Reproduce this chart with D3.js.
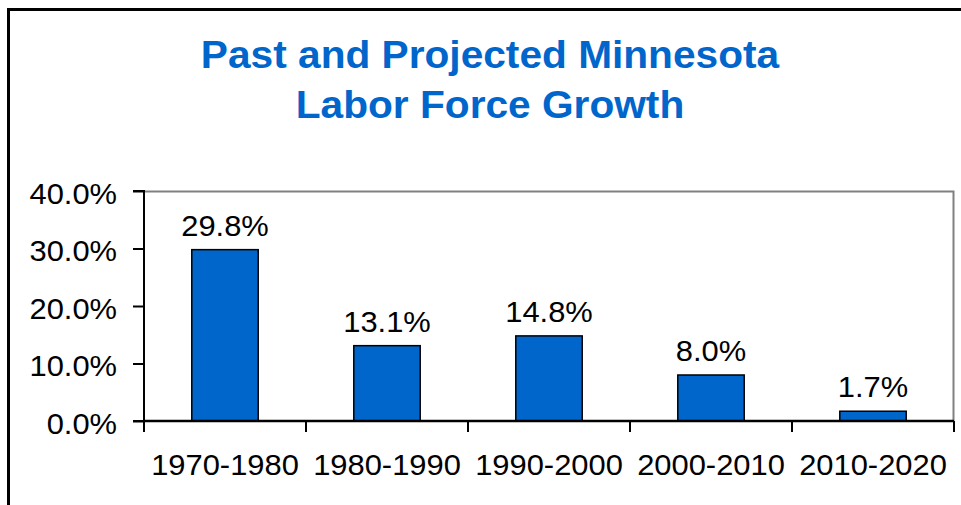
<!DOCTYPE html>
<html>
<head>
    <meta charset="utf-8">
    <title>Past and Projected Minnesota Labor Force Growth</title>
    <script src="https://d3js.org/d3.v7.min.js"></script>
    <style>
        body {
            margin: 0;
            background-color: white;
        }
        text {
            font-family: Arial, "Liberation Sans", sans-serif;
        }
    </style>
</head>
<body>
    <div id="chart"></div>
    <script>

        // data
        var periods = ["1970-1980", "1980-1990", "1990-2000", "2000-2010", "2010-2020"];
        var growth = [29.8, 13.1, 14.8, 8.0, 1.7];
        var yTicks = [0, 10, 20, 30, 40];
        var titleLines = ["Past and Projected Minnesota", "Labor Force Growth"];

        var W = 961, H = 505;
        var margin = { top: 191, right: 7, bottom: 84, left: 144 },
            width = W - margin.left - margin.right,
            height = H - margin.top - margin.bottom;

        // the original text is a little wider than Arial, stretch it a bit
        var sx = 1.065;

        var svg = d3.select("#chart")
            .append("svg")
            .attr("width", W)
            .attr("height", H);

        // outer frame (only top and left visible)
        svg.append("path")
            .attr("d", "M8.5," + H + "V9.5H" + W)
            .attr("fill", "none")
            .attr("stroke", "black")
            .attr("stroke-width", 3);

        // title
        svg.append("g")
            .selectAll("text")
            .data(titleLines)
            .enter()
            .append("text")
            .attr("transform", function (d, i) {
                return "translate(490," + (68 + i * 50) + ") scale(1.07,1)";
            })
            .attr("text-anchor", "middle")
            .attr("fill", "#0066cc")
            .style("font-size", "38px")
            .style("font-weight", "bold")
            .text(function (d) { return d; });

        var g = svg.append("g")
            .attr("transform", "translate(" + margin.left + "," + margin.top + ")");

        var x = d3.scaleBand()
            .domain(periods)
            .range([0, width])
            .paddingInner(0.59)
            .paddingOuter(0.295);

        var xTicksScale = d3.scaleLinear()
            .domain([0, periods.length])
            .range([0, width]);

        var y = d3.scaleLinear()
            .domain([0, 40])
            .range([height, 0]);

        // plot area border (grey top and right)
        g.append("path")
            .attr("d", "M0,0.5H" + (width - 0.5) + "V" + height)
            .attr("fill", "none")
            .attr("stroke", "#808080")
            .attr("stroke-width", 2);

        // bars
        g.selectAll("rect")
            .data(growth)
            .enter()
            .append("rect")
            .attr("x", function (d, i) { return x(periods[i]); })
            .attr("y", function (d) { return y(d); })
            .attr("width", x.bandwidth())
            .attr("height", function (d) { return height - y(d); })
            .attr("fill", "#0066cc")
            .attr("stroke", "black")
            .attr("stroke-width", 1.5);

        // value labels
        g.selectAll(".val")
            .data(growth)
            .enter()
            .append("text")
            .attr("class", "val")
            .attr("transform", function (d, i) {
                return "translate(" + (x(periods[i]) + x.bandwidth() / 2) + "," + (y(d) - 14) + ") scale(" + sx + ",1)";
            })
            .attr("text-anchor", "middle")
            .style("font-size", "29px")
            .attr("fill", "black")
            .text(function (d) { return d.toFixed(1) + "%"; });

        // y axis
        var yAxis = g.append("g")
            .call(d3.axisLeft(y)
                .tickValues(yTicks)
                .tickSize(11)
                .tickPadding(16)
                .tickFormat(function (d) { return d.toFixed(1) + "%"; }));
        yAxis.select(".domain").attr("stroke-width", 2).attr("d", "M-11," + height + "H0V0H-11");
        yAxis.selectAll(".tick line").attr("stroke-width", 2);
        yAxis.selectAll(".tick text")
            .style("font-size", "29px")
            .style("font-family", "Arial, 'Liberation Sans', sans-serif")
            .attr("fill", "black")
            .attr("dy", "0.42em")
            .attr("transform", function () {
                var xx = +d3.select(this).attr("x");
                return "translate(" + xx * (1 - sx) + ",0) scale(" + sx + ",1)";
            });

        // x axis: ticks on category boundaries
        var xAxis = g.append("g")
            .attr("transform", "translate(0," + height + ")");
        xAxis.append("line")
            .attr("x1", 0).attr("x2", width)
            .attr("stroke", "black").attr("stroke-width", 2.5);
        xAxis.selectAll(".tk")
            .data(d3.range(periods.length + 1))
            .enter()
            .append("line")
            .attr("class", "tk")
            .attr("x1", function (d) { return xTicksScale(d); })
            .attr("x2", function (d) { return xTicksScale(d); })
            .attr("y1", 0).attr("y2", 11)
            .attr("stroke", "black").attr("stroke-width", 2);
        xAxis.selectAll(".lbl")
            .data(periods)
            .enter()
            .append("text")
            .attr("class", "lbl")
            .attr("transform", function (d) {
                return "translate(" + (x(d) + x.bandwidth() / 2) + ",54) scale(" + sx + ",1)";
            })
            .attr("text-anchor", "middle")
            .style("font-size", "29px")
            .attr("fill", "black")
            .text(function (d) { return d; });

    </script>
</body>
</html>
